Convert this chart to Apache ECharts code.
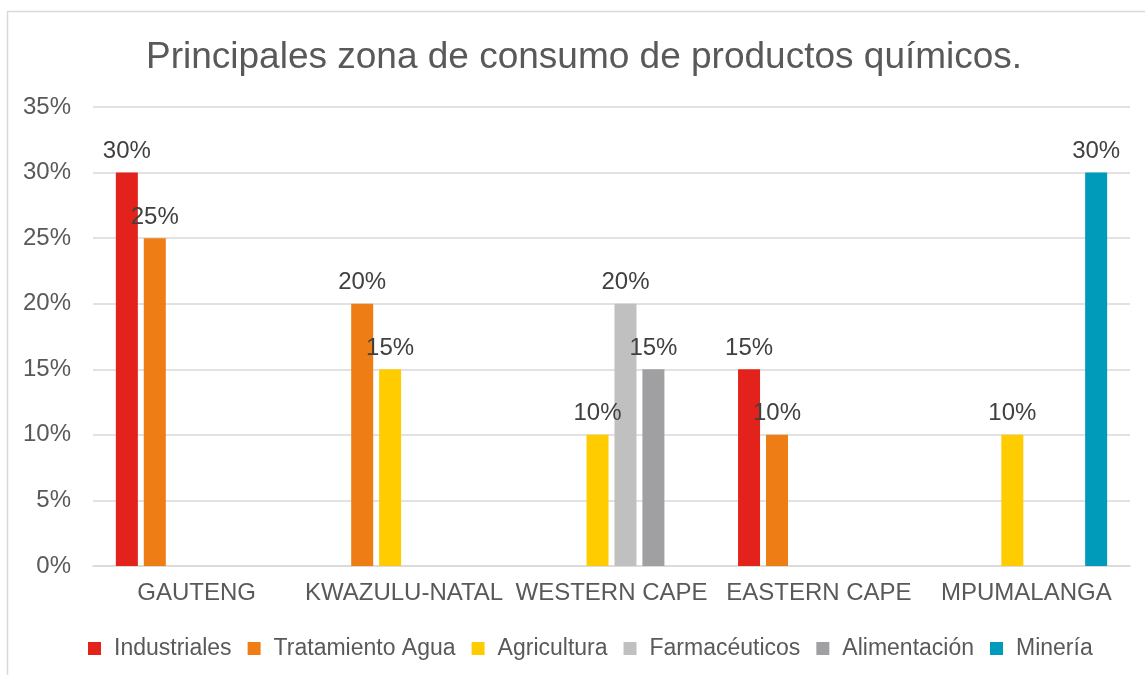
<!DOCTYPE html>
<html>
<head>
<meta charset="utf-8">
<script src="https://cdn.jsdelivr.net/npm/echarts@6/dist/echarts.min.js"></script>
<style>
html,body{margin:0;padding:0;background:#fff;}
#chart{width:1145px;height:675px;}
</style>
</head>
<body>
<div id="chart"></div>
<script>
const titleText = 'Principales zona de consumo de productos químicos.';
const categories = ['GAUTENG', 'KWAZULU-NATAL', 'WESTERN CAPE', 'EASTERN CAPE', 'MPUMALANGA'];
const seriesNames = ['Industriales', 'Tratamiento Agua', 'Agricultura', 'Farmacéuticos', 'Alimentación', 'Minería'];
const industriales = [30, null, null, 15, null];
const tratamientoAgua = [25, 20, null, 10, null];
const agricultura = [null, 15, 10, null, 10];
const farmaceuticos = [null, null, 20, null, null];
const alimentacion = [null, null, 15, null, null];
const mineria = [null, null, null, null, 30];
const colors = ['#E3231B', '#EE7D15', '#FFCC00', '#C0C0C0', '#A0A0A3', '#009BBB'];

const values = [industriales, tratamientoAgua, agricultura, farmaceuticos, alimentacion, mineria];
const font = 'Liberation Sans, Arial, sans-serif';

const chart = echarts.init(document.getElementById('chart'));
chart.setOption({
  animation: false,
  color: colors,
  textStyle: { fontFamily: font },
  title: {
    text: titleText,
    left: 141,
    top: 34,
    textStyle: { fontFamily: font, fontSize: 37, fontWeight: 'normal', color: '#595959' }
  },
  graphic: [{
    type: 'rect',
    shape: { x: 7.5, y: 11.5, width: 1300, height: 800 },
    style: { fill: 'none', stroke: '#d9d9d9', lineWidth: 1.5 },
    silent: true
  }],
  grid: { left: 93, right: 15, top: 107, bottom: 109 },
  legend: {
    bottom: 10,
    left: 83,
    icon: 'rect',
    itemWidth: 13,
    itemHeight: 13,
    itemGap: 16,
    textStyle: { fontFamily: font, fontSize: 23, color: '#595959', padding: [0, 0, 0, 8] },
    data: seriesNames
  },
  xAxis: {
    type: 'category',
    data: categories,
    axisLine: { lineStyle: { color: '#d9d9d9', width: 1.5 } },
    axisTick: { show: false },
    axisLabel: { interval: 0, fontFamily: font, fontSize: 24, color: '#595959', margin: 15 }
  },
  yAxis: {
    type: 'value',
    min: 0, max: 35, interval: 5,
    axisLine: { show: false },
    axisTick: { show: false },
    splitLine: { lineStyle: { color: '#d9d9d9', width: 1.5 } },
    axisLabel: { formatter: '{value}%', fontFamily: font, fontSize: 24, color: '#595959', margin: 22 }
  },
  series: seriesNames.map((name, i) => ({
    name: name,
    type: 'bar',
    data: values[i],
    barWidth: 22,
    barGap: '27%',
    itemStyle: { color: colors[i] },
    label: {
      show: true,
      position: 'top',
      distance: 9,
      formatter: '{c}%',
      fontFamily: font,
      fontSize: 24,
      color: '#404040'
    }
  }))
});
</script>
</body>
</html>
